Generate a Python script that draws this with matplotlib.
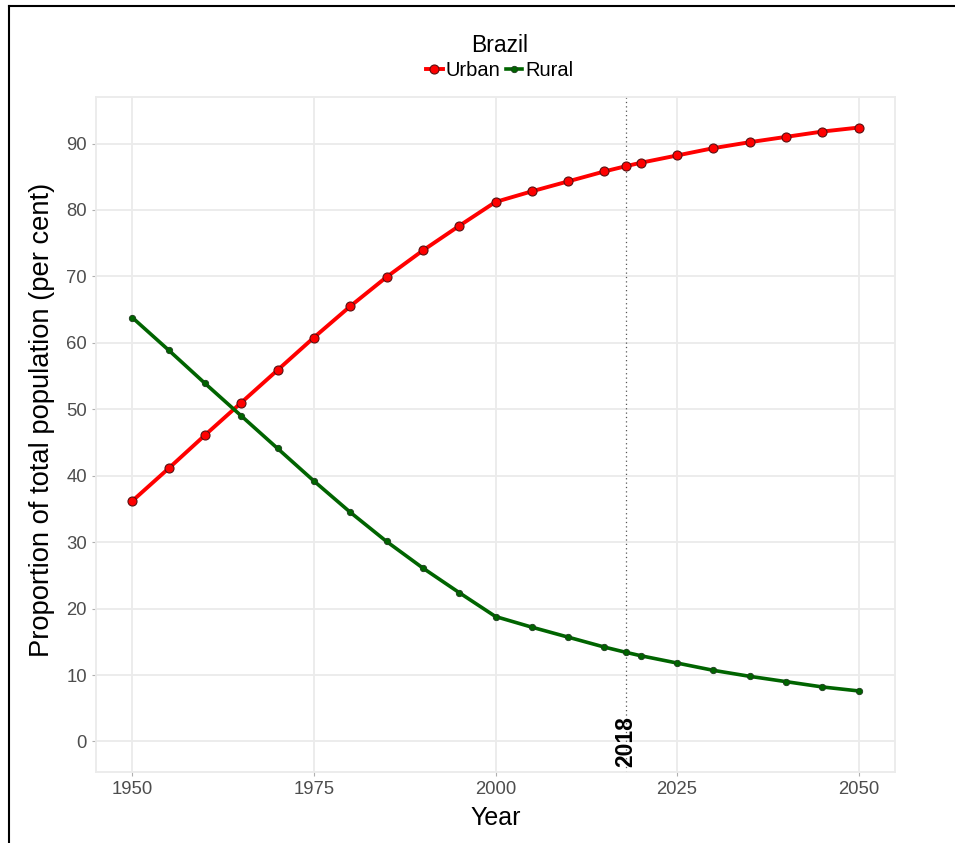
import matplotlib
matplotlib.use("Agg")
import matplotlib.pyplot as plt
from matplotlib.lines import Line2D

plt.rcParams['font.family'] = ['Liberation Sans', 'DejaVu Sans']

years = [1950, 1955, 1960, 1965, 1970, 1975, 1980, 1985, 1990, 1995, 2000,
         2005, 2010, 2015, 2018, 2020, 2025, 2030, 2035, 2040, 2045, 2050]
urban = [36.2, 41.1, 46.1, 51.0, 55.9, 60.8, 65.5, 69.9, 73.9, 77.6, 81.2,
         82.8, 84.3, 85.8, 86.6, 87.1, 88.2, 89.3, 90.2, 91.0, 91.8, 92.4]
rural = [round(100 - u, 1) for u in urban]
xticks = [1950, 1975, 2000, 2025, 2050]
yticks = [0, 10, 20, 30, 40, 50, 60, 70, 80, 90]
mark_year = 2018

fig = plt.figure(figsize=(9.55, 8.43), dpi=100)
ax = fig.add_axes([96/955, 71/843, 799/955, 675/843])

grid_c = '#EBEBEB'
ax.set_xlim(1945, 2055)
ax.set_ylim(-4.6, 97.0)
ax.set_xticks(xticks)
ax.set_yticks(yticks)
ax.grid(True, color=grid_c, linewidth=1.3)
ax.set_axisbelow(True)
for s in ax.spines.values():
    s.set_color(grid_c)
    s.set_linewidth(1.3)
ax.tick_params(colors='#B0B0B0', labelcolor='#4D4D4D', labelsize=13.3, length=3)

ax.axvline(mark_year, color='#555555', linestyle=(0, (1, 2.5)), linewidth=0.9, zorder=1)

ax.plot(years, urban, color='#FF0000', linewidth=2.8, marker='o', markersize=6.5,
        markerfacecolor='#FF0000', markeredgecolor='#5A1010', markeredgewidth=0.8,
        label='Urban', zorder=3)
ax.plot(years, rural, color='#006400', linewidth=2.6, marker='o', markersize=4.6,
        markerfacecolor='#006400', markeredgecolor='#1E3A1E', markeredgewidth=0.6,
        label='Rural', zorder=3)

ax.text(mark_year, -3.8, str(mark_year), rotation=90, ha='center', va='bottom',
        fontsize=16.5, fontweight='bold', color='black')

ax.set_xlabel('Year', fontsize=18, labelpad=6)
ax.set_ylabel('Proportion of total population (per cent)', fontsize=19.7, labelpad=8)
ax.yaxis.label.set_y(0.521)

handles = [Line2D([], [], color='#FF0000', linewidth=2.8, marker='o', markersize=6.5,
                  markeredgecolor='#5A1010', markeredgewidth=0.8),
           Line2D([], [], color='#006400', linewidth=2.6, marker='o', markersize=4.6,
                  markeredgecolor='#1E3A1E', markeredgewidth=0.6)]
leg = fig.legend(handles, ['Urban', 'Rural'], loc='upper center',
                 bbox_to_anchor=(500/955, 1 - 20/843), ncol=2, frameon=False,
                 title='Brazil', fontsize=14.5, title_fontsize=16.5,
                 handlelength=0.8, handletextpad=0.15, columnspacing=0.3,
                 labelspacing=0.2, borderpad=0.2)

# figure frame (left and top only)
fig.add_artist(Line2D([9/955, 9/955], [0, 1 - 6/843], color='black', linewidth=1.5,
                      transform=fig.transFigure))
fig.add_artist(Line2D([9/955, 1], [1 - 6/843, 1 - 6/843], color='black', linewidth=1.5,
                      transform=fig.transFigure))

fig.savefig('out.png', dpi=100)
